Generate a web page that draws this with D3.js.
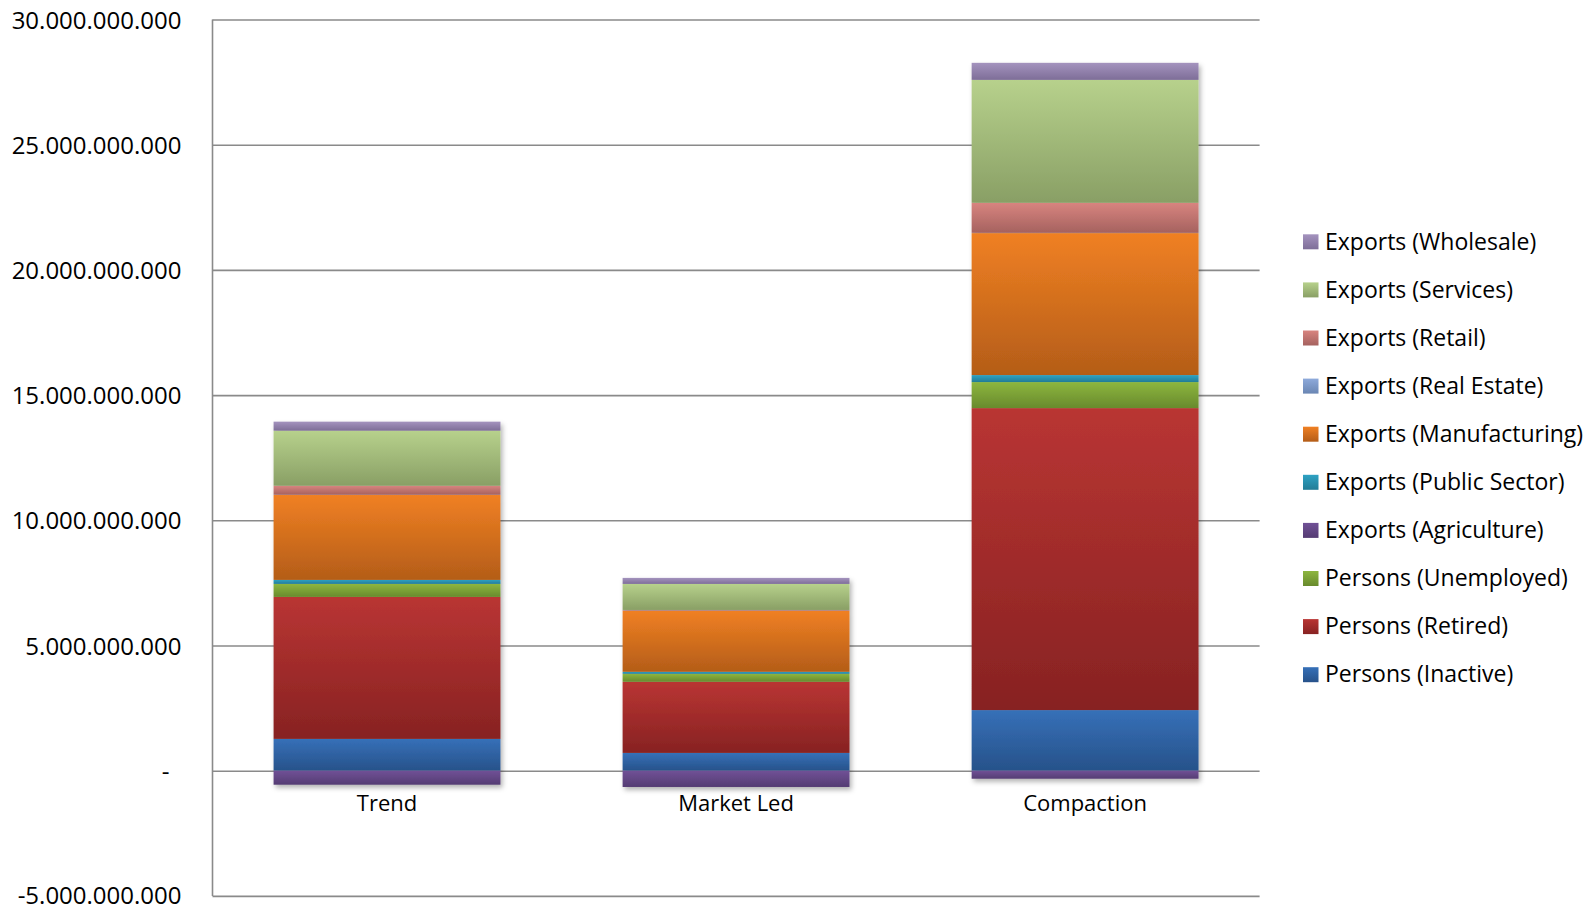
<!DOCTYPE html>
<html>
<head>
<meta charset="utf-8">
<script src="https://cdn.jsdelivr.net/npm/d3@7"></script>
<style>
  html, body { margin: 0; padding: 0; background: #fff; }
  svg { display: block; font-family: "Open Sans", "Noto Sans", sans-serif; }
</style>
</head>
<body>
<svg id="chart" width="1594" height="908"></svg>
<script>
// Values in billions
const BN = 1e9;
const categories = ["Trend", "Market Led", "Compaction"];

const personsInactive      = [1.27, 0.71, 2.42];
const personsRetired       = [5.67, 2.84, 12.06];
const personsUnemployed    = [0.52, 0.32, 1.04];
const exportsAgriculture   = [-0.56, -0.65, -0.32];
const exportsPublicSector  = [0.16, 0.08, 0.28];
const exportsManufacturing = [3.39, 2.44, 5.67];
const exportsRealEstate    = [0.01, 0.01, 0.01];
const exportsRetail        = [0.36, 0.02, 1.20];
const exportsServices      = [2.20, 1.04, 4.91];
const exportsWholesale     = [0.36, 0.24, 0.68];

const yTicks = [-5, 0, 5, 10, 15, 20, 25, 30];

// Series in stacking order (bottom to top)
const seriesNames = [
  "Persons (Inactive)", "Persons (Retired)", "Persons (Unemployed)",
  "Exports (Agriculture)", "Exports (Public Sector)", "Exports (Manufacturing)",
  "Exports (Real Estate)", "Exports (Retail)", "Exports (Services)", "Exports (Wholesale)"
];
const seriesValues = [
  personsInactive, personsRetired, personsUnemployed,
  exportsAgriculture, exportsPublicSector, exportsManufacturing,
  exportsRealEstate, exportsRetail, exportsServices, exportsWholesale
];
// light (top) / dark (bottom) gradient colours per series
const seriesColors = [
  ["#3670b8", "#27528a"],
  ["#b93533", "#872222"],
  ["#8db63f", "#688a2d"],
  ["#705196", "#553c73"],
  ["#2ea2c3", "#227c96"],
  ["#f08023", "#b45d18"],
  ["#8eaadb", "#6a86b3"],
  ["#d8847f", "#a5625f"],
  ["#b7d18c", "#899f65"],
  ["#a493be", "#7e6e98"]
];

const table = categories.map((c, i) => {
  const row = { category: c };
  seriesNames.forEach((s, j) => { row[s] = seriesValues[j][i] * BN; });
  return row;
});

const svg = d3.select("#chart");
const plotLeft = 212.5, plotRight = 1259.6, plotTop = 19.5, plotBottom = 895.9;

const x = d3.scaleBand().domain(categories).range([plotLeft, plotRight])
  .paddingInner(0.35).paddingOuter(0.175);
const y = d3.scaleLinear().domain([-5 * BN, 30 * BN]).range([plotBottom, plotTop]);

const locale = d3.formatLocale({ decimal: ",", thousands: ".", grouping: [3], currency: ["", ""], minus: "-" });
const fmt = locale.format(",.0f");

// gradients
const defs = svg.append("defs");
seriesNames.forEach((s, j) => {
  const g = defs.append("linearGradient").attr("id", "grad" + j)
    .attr("x1", 0).attr("y1", 0).attr("x2", 0).attr("y2", 1);
  g.append("stop").attr("offset", "0%").attr("stop-color", seriesColors[j][0]);
  g.append("stop").attr("offset", "100%").attr("stop-color", seriesColors[j][1]);
});
const shadow = defs.append("filter").attr("id", "shadow")
  .attr("x", "-10%").attr("y", "-10%").attr("width", "130%").attr("height", "130%");
shadow.append("feDropShadow").attr("dx", 2).attr("dy", 3).attr("stdDeviation", 2.5)
  .attr("flood-color", "#000").attr("flood-opacity", 0.3);

// gridlines
const yAxis = d3.axisLeft(y).tickValues(yTicks.map(v => v * BN))
  .tickSize(-(plotRight - plotLeft)).tickPadding(0).tickFormat(d => d === 0 ? "-" : fmt(d));
const gAxis = svg.append("g").attr("transform", `translate(${plotLeft},0)`).call(yAxis);
gAxis.select(".domain").remove();
gAxis.selectAll(".tick line").attr("stroke", "#8a8a8a").attr("stroke-width", 1.6);
gAxis.selectAll(".tick text")
  .attr("x", d => d === 0 ? -43 : -31)
  .attr("dy", d => d < 0 ? "0.3em" : "0.36em")
  .attr("fill", "#000")
  .style("font-size", "24px")
  .style("font-family", "\"Open Sans\", sans-serif");
svg.append("line").attr("x1", plotLeft).attr("x2", plotLeft).attr("y1", plotTop).attr("y2", plotBottom)
  .attr("stroke", "#8a8a8a").attr("stroke-width", 1.6);

// stacked bars
const stack = d3.stack().keys(seriesNames).offset(d3.stackOffsetDiverging);
const stacked = stack(table);
const bars = svg.append("g").attr("filter", "url(#shadow)");
bars.selectAll("g").data(stacked).join("g")
  .attr("fill", (d, j) => `url(#grad${j})`)
  .selectAll("rect").data(d => d).join("rect")
  .attr("x", d => x(d.data.category))
  .attr("width", x.bandwidth())
  .attr("y", d => y(Math.max(d[0], d[1])))
  .attr("height", d => Math.abs(y(d[0]) - y(d[1])));

// category labels
svg.append("g").selectAll("text").data(categories).join("text")
  .attr("x", d => x(d) + x.bandwidth() / 2)
  .attr("y", 811)
  .attr("text-anchor", "middle")
  .style("font-size", "22px")
  .attr("fill", "#000")
  .text(d => d);

// legend (reverse of stacking order)
const legendItems = seriesNames.map((s, j) => ({ name: s, j })).reverse();
const legend = svg.append("g").attr("transform", "translate(1303,241.3)");
const li = legend.selectAll("g").data(legendItems).join("g")
  .attr("transform", (d, i) => `translate(0,${i * 48.1})`);
li.append("rect").attr("x", 0).attr("y", -7).attr("width", 15.5).attr("height", 15)
  .attr("fill", d => `url(#grad${d.j})`);
li.append("text").attr("x", 22).attr("y", 0).attr("dy", "0.36em")
  .style("font-size", "23px").attr("fill", "#000").text(d => d.name);
</script>
</body>
</html>
